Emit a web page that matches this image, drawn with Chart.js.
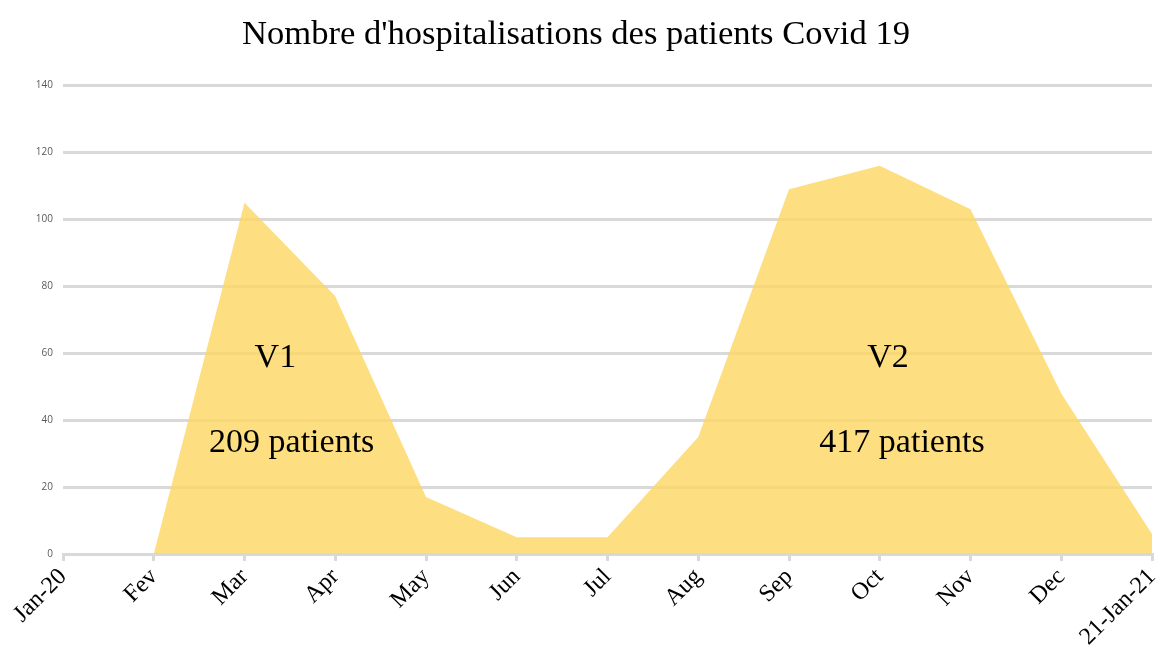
<!DOCTYPE html>
<html>
<head>
<meta charset="utf-8">
<script src="https://cdn.jsdelivr.net/npm/chart.js@4/dist/chart.umd.min.js"></script>
<style>
html,body{margin:0;padding:0;background:#fff;}
#wrap{width:1162px;height:652px;}
</style>
</head>
<body>
<div id="wrap"><canvas id="c" width="1162" height="652"></canvas></div>
<script>
const categories = ['Jan-20','Fev','Mar','Apr','May','Jun','Jul','Aug','Sep','Oct','Nov','Dec','21-Jan-21'];
const hospitalisations = [null, 0, 105, 77, 17, 5, 5, 35, 109, 116, 103, 48, 6];
const yTicks = [0, 20, 40, 60, 80, 100, 120, 140];
const waveLabels = [
  {text: 'V1', x: 2.34, y: 58.5},
  {text: '209 patients', x: 2.52, y: 33},
  {text: 'V2', x: 9.09, y: 58.5},
  {text: '417 patients', x: 9.245, y: 33}
];
const chartTitle = "Nombre d'hospitalisations des patients Covid 19";

const textPlugin = {
  id: 'waveText',
  afterDatasetsDraw(chart) {
    const ctx = chart.ctx;
    const xs = chart.scales.x, ys = chart.scales.y;
    ctx.save();
    ctx.font = '34px "Liberation Serif", "Times New Roman", serif';
    ctx.fillStyle = '#000';
    ctx.textAlign = 'center';
    ctx.textBaseline = 'middle';
    waveLabels.forEach(l => {
      ctx.fillText(l.text, xs.getPixelForValue(l.x), ys.getPixelForValue(l.y));
    });
    ctx.restore();
  }
};

new Chart(document.getElementById('c'), {
  type: 'line',
  data: {
    labels: categories,
    datasets: [{
      data: hospitalisations,
      fill: 'origin',
      backgroundColor: 'rgba(252,214,96,0.8)',
      borderWidth: 0,
      pointRadius: 0,
      tension: 0
    }]
  },
  options: {
    responsive: false,
    animation: false,
    layout: {padding: {left: 0, right: 10, top: 0, bottom: 0}},
    plugins: {
      legend: {display: false},
      tooltip: {enabled: false},
      title: {
        display: true,
        text: chartTitle,
        color: '#000',
        font: {family: '"Liberation Serif", "Times New Roman", serif', size: 34.6, weight: 'normal'},
        padding: {top: 14, bottom: 30}
      }
    },
    scales: {
      x: {
        offset: false,
        afterFit(scale) { scale.paddingLeft = 63; scale.paddingRight = 0; scale.height = 98; },
        grid: {display: true, drawOnChartArea: false, drawTicks: true, tickLength: 7, color: '#d9d9d9', lineWidth: 3},
        border: {display: true, color: '#d9d9d9', width: 3},
        ticks: {
          color: '#000',
          font: {family: '"Liberation Serif", "Times New Roman", serif', size: 24},
          maxRotation: 45, minRotation: 45, autoSkip: false, padding: 2
        }
      },
      y: {
        min: 0, max: 140,
        afterBuildTicks(scale) { scale.ticks = yTicks.map(v => ({value: v})); },
        grid: {color: '#d9d9d9', lineWidth: 3, drawTicks: false},
        border: {display: false},
        ticks: {
          color: '#595959',
          font: {family: '"Open Sans", "Liberation Sans", sans-serif', size: 10},
          padding: 10
        }
      }
    }
  },
  plugins: [textPlugin]
});
</script>
</body>
</html>
